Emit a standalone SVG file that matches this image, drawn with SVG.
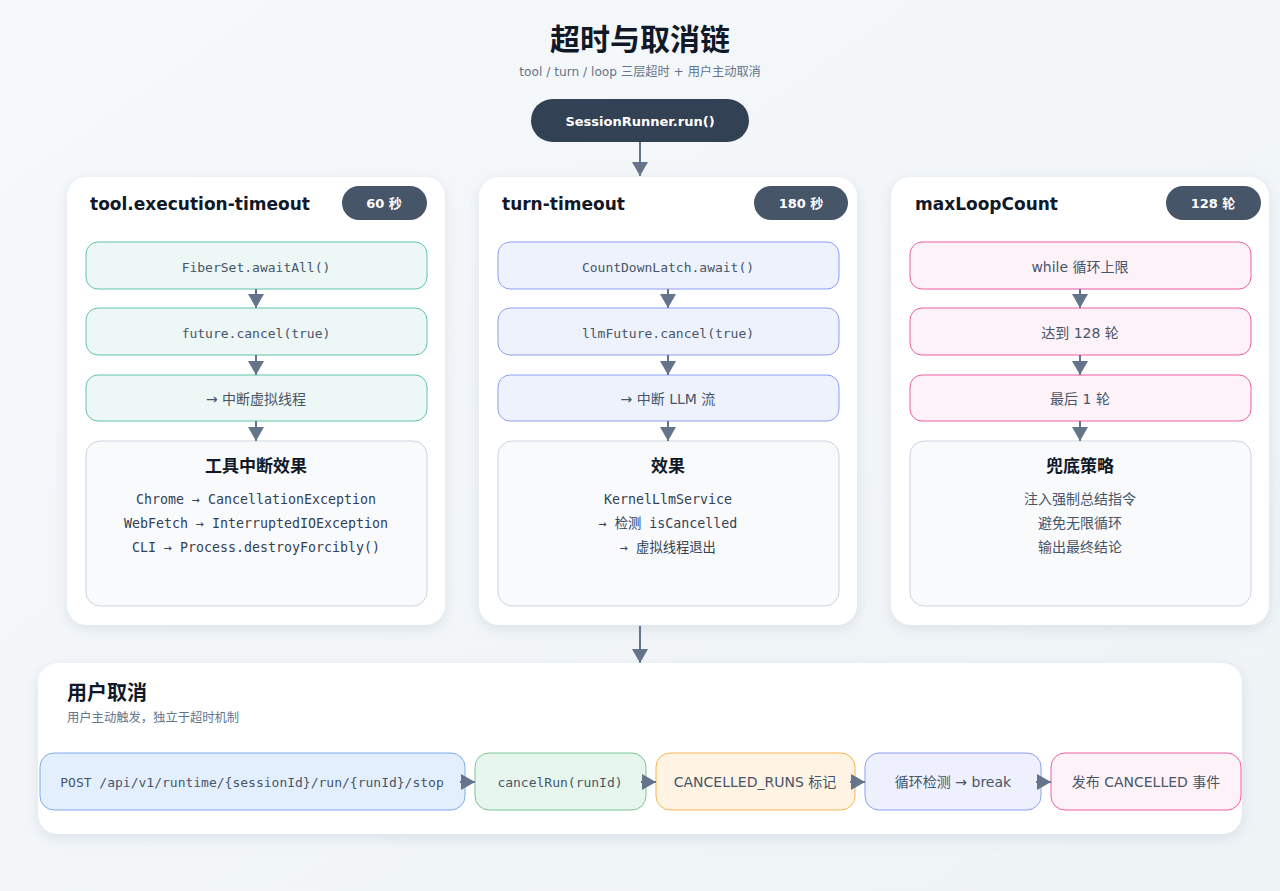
<svg xmlns="http://www.w3.org/2000/svg" width="1280" height="891" viewBox="0 0 1280 891">
<defs>
<linearGradient id="bg" x1="0" y1="0" x2="1" y2="1">
<stop offset="0" stop-color="#f6f9fb"/>
<stop offset="1" stop-color="#eef3f6"/>
</linearGradient>
<filter id="sh" x="-10%" y="-10%" width="120%" height="125%">
<feDropShadow dx="0" dy="4" stdDeviation="7" flood-color="#94a3b8" flood-opacity="0.25"/>
</filter>
<marker id="ah" viewBox="0 0 14 16" refX="14" refY="8" markerWidth="14" markerHeight="16" markerUnits="userSpaceOnUse" orient="auto">
<path d="M0,0 L14,8 L0,16 Z" fill="#64748b"/>
</marker>
</defs>
<style>
.t{font-family:"DejaVu Sans","Noto Sans CJK SC",sans-serif}
.m{font-family:"DejaVu Sans Mono","Noto Sans CJK SC",monospace}
.card{fill:#fff;filter:url(#sh)}
.badge{fill:#475569}
.bt{font-size:13px;font-weight:bold;fill:#fff;text-anchor:middle}
.ct{font-size:17px;font-weight:bold;fill:#111827}
.g{fill:#edf7f5;stroke:#5fc3ad;stroke-width:1}
.b{fill:#eef2fd;stroke:#8d9ef3;stroke-width:1}
.p{fill:#fdf2f8;stroke:#ec5fa0;stroke-width:1}
.e{fill:#f8fafc;stroke:#cbd5e1;stroke-width:1}
.bx{font-size:13px;fill:#475569;text-anchor:middle}
.sx{font-size:14px;fill:#475569;text-anchor:middle}
.et{font-size:17px;font-weight:bold;fill:#111827;text-anchor:middle}
.el{font-size:13.3px;fill:#334155;text-anchor:middle}
.sl{font-size:14px;fill:#475569;text-anchor:middle}
.ln{stroke:#64748b;stroke-width:2;fill:none}
</style>
<rect width="1280" height="891" fill="url(#bg)"/>

<g id="header">
<text class="t" x="640" y="50" text-anchor="middle" font-size="30" font-weight="bold" fill="#111827">超时与取消链</text>
<text class="t" x="640" y="76" text-anchor="middle" font-size="12.2" fill="#64748b">tool / turn / loop 三层超时 + 用户主动取消</text>
</g>

<g id="session-runner">
<rect x="531" y="99" width="218" height="43" rx="21.5" fill="#334155"/>
<text class="t bt" x="640" y="126">SessionRunner.run()</text>
</g>

<g id="card-tool">
<rect class="card" x="67" y="177" width="378" height="448" rx="20"/>
<text class="t ct" x="90" y="210">tool.execution-timeout</text>
<rect class="badge" x="342" y="186" width="85" height="34" rx="17"/>
<text class="t bt" x="384" y="208">60 秒</text>
<rect class="g" x="86" y="242" width="341" height="47" rx="12"/>
<text class="m bx" x="256" y="272">FiberSet.awaitAll()</text>
<rect class="g" x="86" y="308" width="341" height="47" rx="12"/>
<text class="m bx" x="256" y="338">future.cancel(true)</text>
<rect class="g" x="86" y="375" width="341" height="46" rx="12"/>
<text class="t sx" x="256" y="404">→ 中断虚拟线程</text>
<rect class="e" x="86" y="441" width="341" height="165" rx="14"/>
<text class="t et" x="256" y="472">工具中断效果</text>
<text class="m el" x="256" y="504">Chrome → CancellationException</text>
<text class="m el" x="256" y="528">WebFetch → InterruptedIOException</text>
<text class="m el" x="256" y="552">CLI → Process.destroyForcibly()</text>
</g>

<g id="card-turn">
<rect class="card" x="479" y="177" width="378" height="448" rx="20"/>
<text class="t ct" x="502" y="210">turn-timeout</text>
<rect class="badge" x="754" y="186" width="94" height="34" rx="17"/>
<text class="t bt" x="801" y="208">180 秒</text>
<rect class="b" x="498" y="242" width="341" height="47" rx="12"/>
<text class="m bx" x="668" y="272">CountDownLatch.await()</text>
<rect class="b" x="498" y="308" width="341" height="47" rx="12"/>
<text class="m bx" x="668" y="338">llmFuture.cancel(true)</text>
<rect class="b" x="498" y="375" width="341" height="46" rx="12"/>
<text class="t sx" x="668" y="404">→ 中断 LLM 流</text>
<rect class="e" x="498" y="441" width="341" height="165" rx="14"/>
<text class="t et" x="668" y="472">效果</text>
<text class="m el" x="668" y="504">KernelLlmService</text>
<text class="m el" x="668" y="528">→ 检测 isCancelled</text>
<text class="m el" x="668" y="552">→ 虚拟线程退出</text>
</g>

<g id="card-loop">
<rect class="card" x="891" y="177" width="378" height="448" rx="20"/>
<text class="t ct" x="915" y="210">maxLoopCount</text>
<rect class="badge" x="1166" y="186" width="95" height="34" rx="17"/>
<text class="t bt" x="1213" y="208">128 轮</text>
<rect class="p" x="910" y="242" width="341" height="47" rx="12"/>
<text class="t sx" x="1080" y="272">while 循环上限</text>
<rect class="p" x="910" y="308" width="341" height="47" rx="12"/>
<text class="t sx" x="1080" y="338">达到 128 轮</text>
<rect class="p" x="910" y="375" width="341" height="46" rx="12"/>
<text class="t sx" x="1080" y="404">最后 1 轮</text>
<rect class="e" x="910" y="441" width="341" height="165" rx="14"/>
<text class="t et" x="1080" y="472">兜底策略</text>
<text class="t sl" x="1080" y="504">注入强制总结指令</text>
<text class="t sl" x="1080" y="528">避免无限循环</text>
<text class="t sl" x="1080" y="552">输出最终结论</text>
</g>

<g id="card-user">
<rect class="card" x="38" y="663" width="1204" height="171" rx="20"/>
<text class="t" x="67" y="700" font-size="20" font-weight="bold" fill="#111827">用户取消</text>
<text class="t" x="67" y="722" font-size="12.3" fill="#64748b">用户主动触发，独立于超时机制</text>
<rect x="40" y="753" width="425" height="57" rx="14" fill="#e4effd" stroke="#7eaaf0"/>
<text class="m bx" x="252" y="787">POST /api/v1/runtime/{sessionId}/run/{runId}/stop</text>
<rect x="475" y="753" width="171" height="57" rx="14" fill="#e6f6ec" stroke="#7cc495"/>
<text class="m bx" x="560" y="787">cancelRun(runId)</text>
<rect x="656" y="753" width="199" height="57" rx="14" fill="#fff3e4" stroke="#f5b554"/>
<text class="t sx" x="755" y="787">CANCELLED_RUNS 标记</text>
<rect x="865" y="753" width="176" height="57" rx="14" fill="#eef1fd" stroke="#8d9ef3"/>
<text class="t sx" x="953" y="787">循环检测 → break</text>
<rect x="1051" y="753" width="190" height="57" rx="14" fill="#fdf2f8" stroke="#ec5fa0"/>
<text class="t sx" x="1146" y="787">发布 CANCELLED 事件</text>
</g>

<g id="connectors">
<line class="ln" x1="640" y1="142" x2="640" y2="176" marker-end="url(#ah)"/>
<line class="ln" x1="256" y1="289" x2="256" y2="308" marker-end="url(#ah)"/>
<line class="ln" x1="256" y1="355" x2="256" y2="375" marker-end="url(#ah)"/>
<line class="ln" x1="256" y1="421" x2="256" y2="441" marker-end="url(#ah)"/>
<line class="ln" x1="668" y1="289" x2="668" y2="308" marker-end="url(#ah)"/>
<line class="ln" x1="668" y1="355" x2="668" y2="375" marker-end="url(#ah)"/>
<line class="ln" x1="668" y1="421" x2="668" y2="441" marker-end="url(#ah)"/>
<line class="ln" x1="1080" y1="289" x2="1080" y2="308" marker-end="url(#ah)"/>
<line class="ln" x1="1080" y1="355" x2="1080" y2="375" marker-end="url(#ah)"/>
<line class="ln" x1="1080" y1="421" x2="1080" y2="441" marker-end="url(#ah)"/>
<line class="ln" x1="640" y1="626" x2="640" y2="663" marker-end="url(#ah)"/>
<line class="ln" x1="460" y1="782" x2="475" y2="782" marker-end="url(#ah)"/>
<line class="ln" x1="641" y1="782" x2="656" y2="782" marker-end="url(#ah)"/>
<line class="ln" x1="850" y1="782" x2="865" y2="782" marker-end="url(#ah)"/>
<line class="ln" x1="1036" y1="782" x2="1051" y2="782" marker-end="url(#ah)"/>
</g>
</svg>
